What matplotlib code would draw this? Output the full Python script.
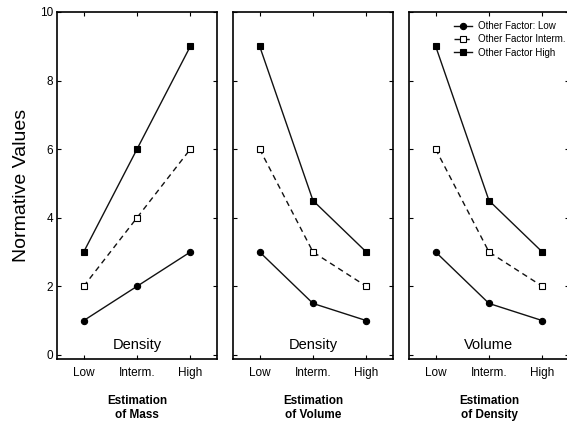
import numpy as np
import matplotlib.pyplot as plt

plt.rcParams['font.family'] = ['Liberation Sans', 'DejaVu Sans']

levels = ['Low', 'Interm.', 'High']
panel_titles = ['Density', 'Density', 'Volume']
panel_xlabels = ['Estimation\nof Mass', 'Estimation\nof Volume', 'Estimation\nof Density']
series_names = ['Other Factor: Low', 'Other Factor Interm.', 'Other Factor High']

# values per panel: rows = other factor low / interm / high
mass_vals = [[1, 2, 3], [2, 4, 6], [3, 6, 9]]
volume_vals = [[3, 1.5, 1], [6, 3, 2], [9, 4.5, 3]]
density_vals = [[3, 1.5, 1], [6, 3, 2], [9, 4.5, 3]]
panels = [mass_vals, volume_vals, density_vals]

styles = [dict(marker='o', ls='-', mfc='black'),
          dict(marker='s', ls=(0, (4, 3)), mfc='white'),
          dict(marker='s', ls='-', mfc='black')]

fig = plt.figure(figsize=(5.67, 4.23), dpi=100)
W, H = 567, 423
lefts = [57, 233, 409]
pw = 160
top, bottom = 12, 359

x = np.arange(len(levels))
for i, vals in enumerate(panels):
    ax = fig.add_axes([lefts[i] / W, 1 - bottom / H, pw / W, (bottom - top) / H])
    for j, row in enumerate(vals):
        ax.plot(x, row, color='#111111', lw=1.0, ms=4.5, mec='black', mew=0.8,
                label=series_names[j], **styles[j])
    ax.set_xlim(-0.5, 2.5)
    ax.set_ylim(-0.12, 10)
    ax.set_xticks(x)
    ax.set_xticklabels(levels, fontsize=8.5)
    ax.set_yticks([0, 2, 4, 6, 8, 10])
    ax.tick_params(direction='in', top=True, right=True, length=3, width=0.8)
    ax.tick_params(axis='x', pad=6)
    ax.tick_params(axis='y', pad=3)
    if i == 0:
        ax.set_yticklabels(['0', '2', '4', '6', '8', '10'], fontsize=8.5)
        ax.set_ylabel('Normative Values', fontsize=14, labelpad=7)
    else:
        ax.set_yticklabels([])
    for s in ax.spines.values():
        s.set_linewidth(1.2)
    ax.text(1, 0.3, panel_titles[i], ha='center', va='center', fontsize=10.5)
    ax.set_xlabel(panel_xlabels[i], fontsize=8.5, fontweight='bold', labelpad=11,
                  linespacing=1.3)
    if i == 2:
        ax.legend(loc='upper right', bbox_to_anchor=(1.0, 0.985), fontsize=7,
                  frameon=False, handlelength=1.8, borderaxespad=0,
                  labelspacing=0.35, handletextpad=0.6)

fig.savefig('out.png', dpi=100, facecolor='white')
